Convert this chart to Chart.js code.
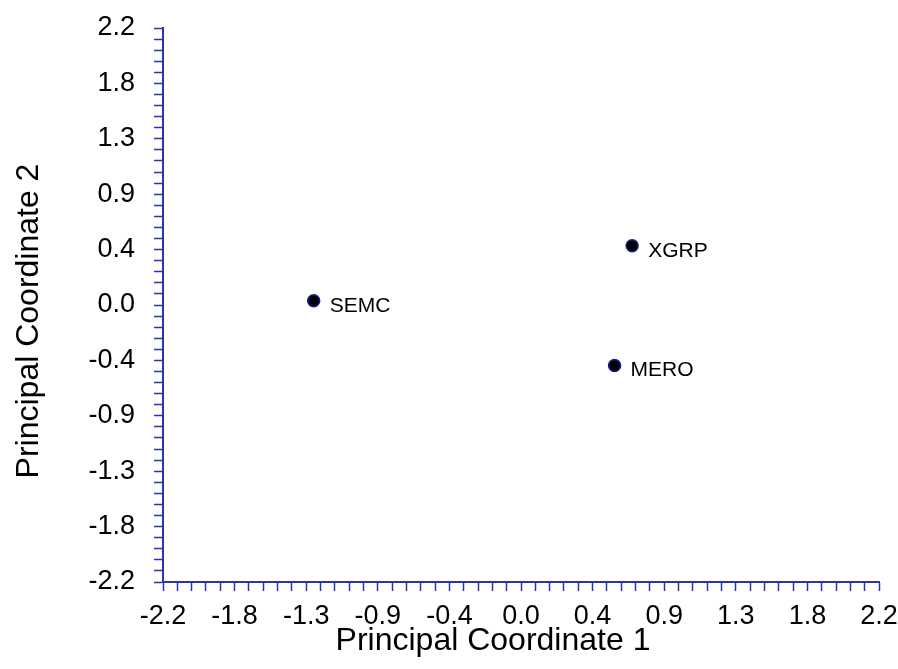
<!DOCTYPE html>
<html>
<head>
<meta charset="utf-8">
<script src="https://cdn.jsdelivr.net/npm/chart.js@4/dist/chart.umd.min.js"></script>
<style>
  html, body { margin: 0; padding: 0; background: #ffffff; }
  #wrap { width: 898px; height: 669px; }
</style>
</head>
<body>
<div id="wrap"><canvas id="myChart" width="898" height="669"></canvas></div>
<script>
// Principal coordinates plot (PCoA) - scatter with labelled points

const pointNames = ['SEMC', 'XGRP', 'MERO'];
const coord1 = [-1.274, 0.683, 0.575];   // Principal Coordinate 1
const coord2 = [0.033, 0.470, -0.481];   // Principal Coordinate 2

// axis range and tick labels (major every 0.44, 4 minor ticks between)
const axisMin = -2.2;
const axisMax = 2.2;
const majorLabels = ['-2.2', '-1.8', '-1.3', '-0.9', '-0.4', '0.0', '0.4', '0.9', '1.3', '1.8', '2.2'];
const minorPerMajor = 5;

const axisColor = '#2b36a6';
const fontFamily = '"Liberation Sans", Arial, sans-serif';

const points = coord1.map((x, i) => ({ x: x, y: coord2[i], name: pointNames[i] }));

// ticks at every minor step, labels only on the majors
function buildTicks(scale) {
    const n = (majorLabels.length - 1) * minorPerMajor;
    const step = (axisMax - axisMin) / n;
    const ticks = [];
    for (let i = 0; i <= n; i++) {
        ticks.push({ value: axisMin + i * step });
    }
    scale.ticks = ticks;
}
function tickLabel(val, index) {
    return index % minorPerMajor === 0 ? majorLabels[index / minorPerMajor] : '';
}
// fixed axis box size, no extra padding for overhanging labels
function fixBox(scale, size) {
    if (scale.isHorizontal()) {
        scale.height = size;
    } else {
        scale.width = size;
    }
    scale.paddingTop = 0;
    scale.paddingBottom = 0;
    scale.paddingLeft = 0;
    scale.paddingRight = 0;
}

// draws the name of each point next to it
const pointLabels = {
    id: 'pointLabels',
    afterDatasetsDraw(chart) {
        const ctx = chart.ctx;
        const meta = chart.getDatasetMeta(0);
        ctx.save();
        ctx.font = '21px ' + fontFamily;
        ctx.fillStyle = '#000000';
        ctx.textAlign = 'left';
        ctx.textBaseline = 'middle';
        meta.data.forEach((el, i) => {
            ctx.fillText(points[i].name, el.x + 16, el.y + 5);
        });
        ctx.restore();
    }
};

// axis titles, placed like the original (not centred on the plot area)
const axisTitles = {
    id: 'axisTitles',
    afterDraw(chart) {
        const ctx = chart.ctx;
        const area = chart.chartArea;
        ctx.save();
        ctx.font = '32px ' + fontFamily;
        ctx.fillStyle = '#000000';
        ctx.textAlign = 'center';
        ctx.textBaseline = 'alphabetic';
        ctx.fillText('Principal Coordinate 1', area.left + 330, area.bottom + 68);
        ctx.translate(area.left - 125, area.top + 293);
        ctx.rotate(-Math.PI / 2);
        ctx.fillText('Principal Coordinate 2', 0, 0);
        ctx.restore();
    }
};

const axisCommon = {
    type: 'linear',
    min: axisMin,
    max: axisMax,
    afterBuildTicks: buildTicks,
    grid: {
        display: true,
        drawOnChartArea: false,
        drawTicks: true,
        tickLength: 9,
        tickWidth: 1.5,
        color: axisColor
    },
    border: {
        display: true,
        color: axisColor,
        width: 2
    },
    title: { display: false }
};

const ctx = document.getElementById('myChart');

const myChart = new Chart(ctx, {
    type: 'scatter',
    data: {
        datasets: [{
            label: 'PCoA',
            data: points,
            backgroundColor: '#000000',
            borderColor: '#1a1f8a',
            borderWidth: 1.5,
            pointRadius: 6,
            pointHoverRadius: 6
        }]
    },
    options: {
        responsive: false,
        animation: false,
        layout: {
            padding: { left: 0, top: 28, right: 19, bottom: 0 }
        },
        scales: {
            x: Object.assign({}, axisCommon, {
                position: 'bottom',
                afterFit: function(scale) { fixBox(scale, 87); },
                ticks: {
                    autoSkip: false,
                    maxRotation: 0,
                    minRotation: 0,
                    padding: 9,
                    color: '#000000',
                    font: { size: 27, family: fontFamily },
                    callback: tickLabel
                }
            }),
            y: Object.assign({}, axisCommon, {
                position: 'left',
                afterFit: function(scale) { fixBox(scale, 163); },
                ticks: {
                    autoSkip: false,
                    padding: 19,
                    color: '#000000',
                    font: { size: 27, family: fontFamily },
                    callback: tickLabel
                }
            })
        },
        plugins: {
            legend: { display: false },
            tooltip: { enabled: false },
            title: { display: false }
        }
    },
    plugins: [pointLabels, axisTitles]
});
</script>
</body>
</html>
